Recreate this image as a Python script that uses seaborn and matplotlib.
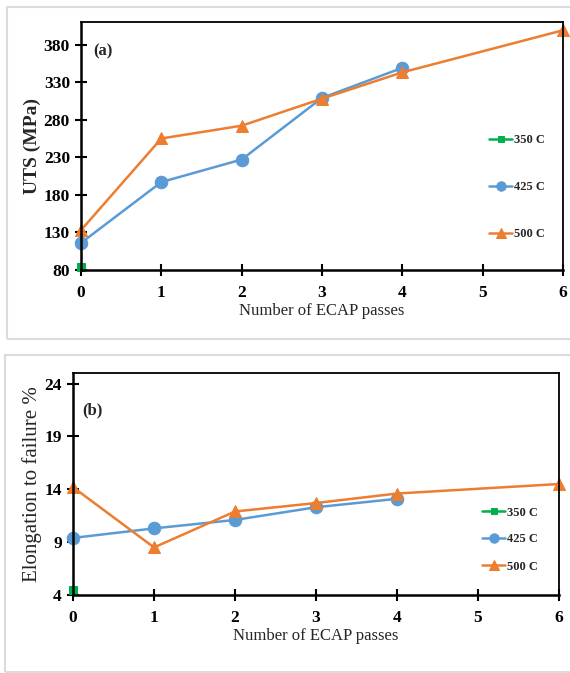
import matplotlib
matplotlib.use("Agg")
import matplotlib.pyplot as plt
import seaborn as sns
from matplotlib.patches import Rectangle

# ECAP passes for each processing temperature
passes_350 = [0]
passes_425 = [0, 1, 2, 3, 4]
passes_500 = [0, 1, 2, 3, 4, 6]

# (a) ultimate tensile strength, MPa
uts_350 = [84]
uts_425 = [116, 197, 227, 309, 349]
uts_500 = [133, 255, 272, 308, 343, 399]

# (b) elongation to failure, %
elong_350 = [4.5]
elong_425 = [9.4, 10.3, 11.1, 12.3, 13.1]
elong_500 = [14.2, 8.5, 11.9, 12.7, 13.6, 14.5]

labels = ["350 C", "425 C", "500 C"]
x_ticks = [0, 1, 2, 3, 4, 5, 6]
uts_ticks = [80, 130, 180, 230, 280, 330, 380]
elong_ticks = [4, 9, 14, 19, 24]

colors = ["#00B050", "#5B9BD5", "#ED7D31"]
markers = ["s", "o", "^"]
msizes = [6, 9, 9]

sns.set_style("white")
plt.rcParams["font.family"] = ["Liberation Serif", "DejaVu Serif"]

fig = plt.figure(figsize=(5.7, 6.73), dpi=100)

# light grey frames around each panel
fig.patches.append(Rectangle((7 / 570, 1 - 339 / 673), 570 / 570, 332 / 673,
                             transform=fig.transFigure, fill=False,
                             edgecolor="#dcdcdc", linewidth=1.5))
fig.patches.append(Rectangle((5 / 570, 1 - 672 / 673), 570 / 570, 317 / 673,
                             transform=fig.transFigure, fill=False,
                             edgecolor="#dcdcdc", linewidth=1.5))

ax1 = fig.add_axes([81 / 570, 1 - 270 / 673, 482 / 570, 248 / 673])
ax2 = fig.add_axes([73 / 570, 1 - 595 / 673, 486 / 570, 222 / 673])


def draw_panel(ax, xs, ys, ylim, yticks, ylabel, ylabel_size, ylabel_weight,
               tag, tag_pos, leg_anchor, leg_spacing):
    for x, y, lab, c, m, s in zip(xs, ys, labels, colors, markers, msizes):
        sns.lineplot(x=x, y=y, ax=ax, color=c, marker=m, markersize=s,
                     markeredgecolor=c, linewidth=1.8, label=lab, clip_on=False)
    ax.set_xlim(0, 6)
    ax.set_ylim(*ylim)
    ax.set_xticks(x_ticks)
    ax.set_yticks(yticks)
    ax.tick_params(axis="both", direction="inout", length=9, width=1.5,
                   labelsize=12.5, colors="black", bottom=True, left=True)
    for t in ax.get_xticklabels() + ax.get_yticklabels():
        t.set_fontweight("bold")
    ax.tick_params(axis="x", pad=6)
    for sp in ax.spines.values():
        sp.set_color("black")
        sp.set_linewidth(1.3)
    ax.spines["left"].set_linewidth(1.8)
    ax.spines["bottom"].set_linewidth(1.8)
    ax.set_xlabel("Number of ECAP passes", fontsize=12, labelpad=2)
    ax.set_ylabel(ylabel, fontsize=ylabel_size, fontweight=ylabel_weight,
                  labelpad=2)
    ax.text(tag_pos[0], tag_pos[1], tag, transform=ax.transAxes,
            fontsize=12, fontweight="bold", va="center", ha="left")
    leg = ax.legend(loc="center", bbox_to_anchor=leg_anchor, frameon=False,
                    fontsize=9, labelspacing=leg_spacing, handlelength=1.8,
                    handletextpad=0.2, markerscale=0.75)
    for t in leg.get_texts():
        t.set_fontweight("bold")


draw_panel(ax1, [passes_350, passes_425, passes_500],
           [uts_350, uts_425, uts_500], (80, 410), uts_ticks,
           "UTS (MPa)", 14, "bold", "(a)", (0.025, 0.88),
           (0.905, 0.335), 2.8)

draw_panel(ax2, [passes_350, passes_425, passes_500],
           [elong_350, elong_425, elong_500], (4, 25), elong_ticks,
           "Elongation to failure %", 15, "normal", "(b)", (0.02, 0.83),
           (0.90, 0.25), 1.2)

fig.savefig("out.png", dpi=100)
